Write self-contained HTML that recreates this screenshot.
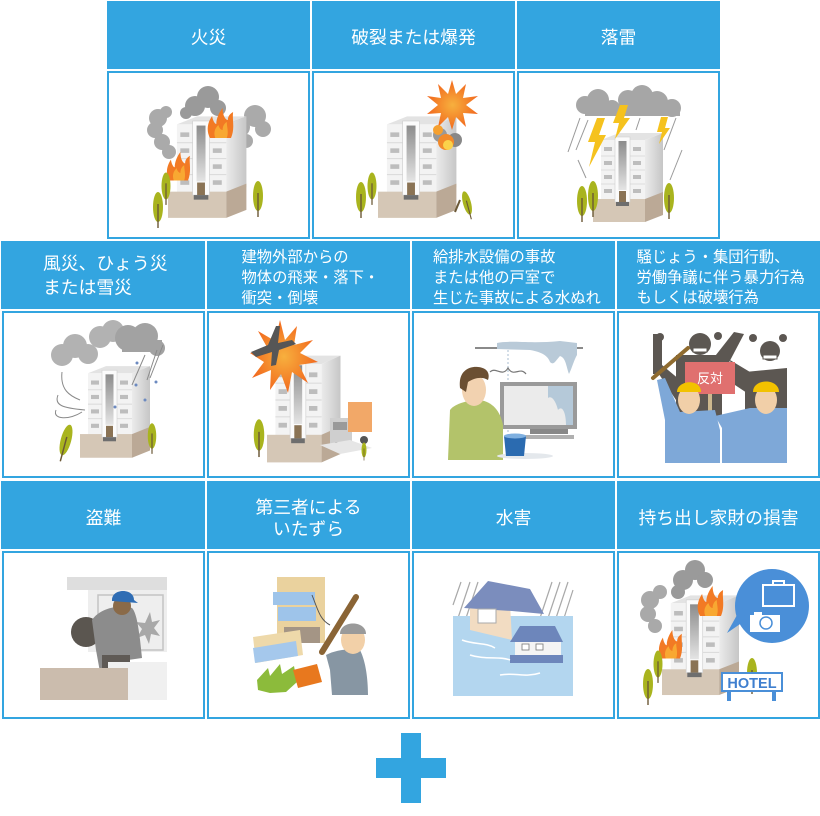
<!DOCTYPE html>
<html><head><meta charset="utf-8"><style>
html,body{margin:0;padding:0;background:#fff;width:820px;height:816px;overflow:hidden}
svg{display:block}
text{font-family:"Liberation Sans","Noto Sans CJK JP",sans-serif;fill:#fff}
</style></head><body>
<svg width="820" height="816" viewBox="0 0 820 816" xmlns="http://www.w3.org/2000/svg">
<defs>
 <linearGradient id="gs" x1="0" y1="0" x2="0" y2="1"><stop offset="0" stop-color="#8c8c8c"/><stop offset="1" stop-color="#e4e4e4"/></linearGradient>
 <linearGradient id="gside" x1="0" y1="0" x2="1" y2="0"><stop offset="0" stop-color="#ebebeb"/><stop offset="1" stop-color="#c6c6c6"/></linearGradient>
 <radialGradient id="gstar"><stop offset="0" stop-color="#f7b03e"/><stop offset="1" stop-color="#f26a1e"/></radialGradient>
 <g id="bld">
  <polygon points="8,10 26,3 70,3 52,10" fill="#e3e3e3"/>
  <rect x="8" y="10" width="44" height="62" fill="#f3f3f3"/>
  <polygon points="52,10 70,3 70,65 52,72" fill="url(#gside)"/>
  <g stroke="#dcdcdc" stroke-width="1"><line x1="8" y1="26" x2="52" y2="26"/><line x1="8" y1="40" x2="52" y2="40"/><line x1="8" y1="54" x2="52" y2="54"/></g>
  <g fill="#bdbdbd"><rect x="11" y="17" width="8" height="4"/><rect x="11" y="31" width="8" height="4"/><rect x="11" y="45" width="8" height="4"/><rect x="11" y="59" width="8" height="4"/><rect x="40" y="17" width="8" height="4"/><rect x="40" y="31" width="8" height="4"/><rect x="40" y="45" width="8" height="4"/><rect x="40" y="59" width="8" height="4"/></g>
  <rect x="0" y="69" width="52" height="23" fill="#d5c7b6"/>
  <polygon points="52,69 70,62 70,85 52,92" fill="#bba996"/>
  <rect x="22" y="7" width="15" height="65" fill="#fbfbfb" stroke="#cfcfcf" stroke-width=".6"/>
  <rect x="25.5" y="11" width="8" height="49" fill="url(#gs)"/>
  <rect x="26" y="61" width="7" height="11" fill="#8a7355"/>
  <rect x="23" y="72" width="13" height="4" fill="#6e6e6e"/>
 </g>
 <g id="tree">
  <ellipse cx="0" cy="0" rx="5" ry="15" fill="#a9b41e"/>
  <line x1="0" y1="-3" x2="0" y2="21" stroke="#6b5836" stroke-width="1.4"/>
 </g>
 <g id="flame">
  <path d="M0,30 C-4,22 -2,14 2,8 C3,14 5,16 6,16 C6,10 9,4 12,0 C12,8 15,12 17,12 C17,8 19,6 22,4 C21,12 24,20 20,30 Z" fill="#f27a24"/>
  <path d="M5,30 C3,24 5,20 8,17 C9,21 11,22 12,22 C12,18 14,15 16,14 C16,19 18,24 16,30 Z" fill="#f8a832"/>
 </g>
</defs>

<!-- Row 1 headers -->
<g fill="#33a5e0">
 <rect x="107" y="1" width="203" height="68"/>
 <rect x="312" y="1" width="203" height="68"/>
 <rect x="517" y="1" width="203" height="68"/>
 <rect x="1" y="241" width="204" height="68"/>
 <rect x="207" y="241" width="203" height="68"/>
 <rect x="412" y="241" width="203" height="68"/>
 <rect x="617" y="241" width="203" height="68"/>
 <rect x="1" y="481" width="204" height="68"/>
 <rect x="207" y="481" width="203" height="68"/>
 <rect x="412" y="481" width="203" height="68"/>
 <rect x="617" y="481" width="203" height="68"/>
 <rect x="401" y="733" width="20" height="70"/>
 <rect x="376" y="758" width="70" height="20"/>
</g>
<!-- image boxes -->
<g fill="#fff" stroke="#33a5e0" stroke-width="2">
 <rect x="108" y="72" width="201" height="166"/>
 <rect x="313" y="72" width="201" height="166"/>
 <rect x="518" y="72" width="201" height="166"/>
 <rect x="3" y="312" width="201" height="165"/>
 <rect x="208" y="312" width="201" height="165"/>
 <rect x="413" y="312" width="201" height="165"/>
 <rect x="618" y="312" width="201" height="165"/>
 <rect x="3" y="552" width="201" height="166"/>
 <rect x="208" y="552" width="201" height="166"/>
 <rect x="413" y="552" width="201" height="166"/>
 <rect x="618" y="552" width="201" height="166"/>
</g>

<!-- Header text -->
<g font-size="17.8" text-anchor="middle">
 <text x="208.5" y="43.5">火災</text>
 <text x="413.5" y="43.5">破裂または爆発</text>
 <text x="618.5" y="43.5">落雷</text>
 <text x="103.5" y="524">盗難</text>
 <text x="308.5" y="513.5">第三者による</text>
 <text x="308.5" y="535">いたずら</text>
 <text x="513.5" y="524">水害</text>
 <text x="718.5" y="524">持ち出し家財の損害</text>
</g>
<g font-size="17.8">
 <text x="43" y="269.6">風災、ひょう災</text>
 <text x="43" y="293.6">または雪災</text>
</g>
<g font-size="15.3">
 <text x="241.5" y="262">建物外部からの</text>
 <text x="241.5" y="282.5">物体の飛来・落下・</text>
 <text x="241.5" y="303">衝突・倒壊</text>
 <text x="433" y="262">給排水設備の事故</text>
 <text x="433" y="282.5">または他の戸室で</text>
 <text x="433" y="303">生じた事故による水ぬれ</text>
 <text x="636.5" y="262">騒じょう・集団行動、</text>
 <text x="636.5" y="282.3">労働争議に伴う暴力行為</text>
 <text x="636.5" y="302.6">もしくは破壊行為</text>
</g>

<!-- A: 火災 -->
<g fill="#aaaaaa">
 <circle cx="158" cy="118" r="9"/><circle cx="155" cy="130" r="8"/><circle cx="162" cy="142" r="8"/><circle cx="169" cy="152" r="7"/><circle cx="166" cy="112" r="6"/>
 <circle cx="240" cy="127" r="10"/><circle cx="255" cy="116" r="11"/><circle cx="263" cy="129" r="8"/><circle cx="246" cy="141" r="7"/>
</g>
<g fill="#9a9a9a"><circle cx="195" cy="106" r="10"/><circle cx="208" cy="97" r="11"/><circle cx="218" cy="108" r="8"/><circle cx="186" cy="113" r="6"/></g>
<use href="#bld" transform="translate(168,113) scale(1.12,1.14)"/>
<use href="#flame" transform="translate(210,108) scale(1.05,1)"/>
<use href="#flame" transform="translate(169,152) scale(0.95,0.95)"/>
<use href="#tree" transform="translate(158,207)"/>
<use href="#tree" transform="translate(166,186) scale(.9)"/>
<use href="#tree" transform="translate(258,196)"/>

<!-- B: 破裂または爆発 -->
<use href="#bld" transform="translate(378,113) scale(1.12,1.14)"/>
<polygon fill="url(#gstar)" points="452,80 456,94 466,84 463,98 478,96 466,105 478,114 463,113 466,127 456,117 452,130 448,117 438,127 441,113 427,114 438,105 427,96 441,98 438,84 448,94"/>
<g><circle cx="440" cy="135" r="7" fill="#999"/><circle cx="455" cy="140" r="7" fill="#888"/><circle cx="446" cy="142" r="8" fill="#f28a2a"/><circle cx="448" cy="145" r="5" fill="#fbd24a"/><circle cx="438" cy="130" r="5" fill="#f5a030"/></g>
<use href="#tree" transform="translate(361,197)"/>
<use href="#tree" transform="translate(372,186) scale(.9)"/>
<use href="#tree" transform="translate(467,203) rotate(-15) scale(.8)"/>
<line x1="455" y1="212" x2="460" y2="200" stroke="#6b5836" stroke-width="2"/>

<!-- C: 落雷 -->
<g stroke="#9a9a9a" stroke-width="1"><line x1="580" y1="118" x2="568" y2="152"/><line x1="588" y1="120" x2="576" y2="150"/><line x1="676" y1="118" x2="664" y2="150"/><line x1="682" y1="150" x2="670" y2="180"/><line x1="578" y1="160" x2="586" y2="178"/><line x1="640" y1="118" x2="636" y2="130"/></g>
<g fill="#a6a6a6"><circle cx="585" cy="105" r="9"/><circle cx="598" cy="100" r="11"/><circle cx="612" cy="108" r="8"/><circle cx="628" cy="100" r="10"/><circle cx="642" cy="96" r="11"/><circle cx="657" cy="102" r="11"/><circle cx="672" cy="108" r="9"/><rect x="585" y="104" width="95" height="12"/></g>
<use href="#bld" transform="translate(593,130)"/>
<g fill="#f5c21e">
 <polygon points="597,118 605,118 599,135 606,135 589,167 595,142 588,142"/>
 <polygon points="620,105 628,105 624,118 630,118 615,139 619,123 613,123"/>
 <polygon points="661,117 668,117 665,128 670,128 659,144 662,132 657,132"/>
</g>
<use href="#tree" transform="translate(582,201)"/>
<use href="#tree" transform="translate(593,196)"/>
<use href="#tree" transform="translate(669,198)"/>

<!-- D: 風災 -->
<g fill="#b2b2b2"><circle cx="62" cy="355" r="11"/><circle cx="75" cy="346" r="12"/><circle cx="88" cy="354" r="10"/><circle cx="100" cy="337" r="11"/><circle cx="113" cy="331" r="11"/></g>
<g fill="#a2a2a2"><circle cx="128" cy="338" r="13"/><circle cx="145" cy="336" r="13"/><circle cx="157" cy="348" r="8"/><rect x="122" y="340" width="40" height="12"/></g>
<use href="#bld" transform="translate(80,363) scale(1,1.03)"/>
<g fill="none" stroke="#8a8a8a" stroke-width="1"><path d="M62,372 C60,390 70,396 80,400"/><path d="M58,395 C54,405 62,408 85,410"/><path d="M56,410 C52,420 70,420 82,412"/><path d="M145,355 L132,385"/><path d="M157,350 L147,380"/><path d="M163,345 L150,378"/></g>
<g fill="#6c8ac0"><circle cx="137" cy="363" r="1.5"/><circle cx="136" cy="385" r="1.5"/><circle cx="156" cy="382" r="1.5"/><circle cx="145" cy="400" r="1.5"/><circle cx="115" cy="407" r="1.5"/></g>
<use href="#tree" transform="translate(66,440) rotate(15) scale(1.05)"/>
<use href="#tree" transform="translate(152,436) scale(.85)"/>

<!-- E: 外部からの飛来 -->
<use href="#bld" transform="translate(267,352) scale(1.05,1.2)"/>
<polygon fill="url(#gstar)" points="280,320 285,340 297,326 294,345 313,340 300,353 318,362 299,365 308,383 292,372 288,393 281,374 270,390 271,370 252,378 264,362 250,353 268,349 258,331 275,341"/>
<polygon fill="#565656" points="251,352 268,345 276,326 280,326 278,343 292,340 296,344 279,350 276,365 271,366 272,352 256,357"/>
<g><rect x="330" y="418" width="22" height="26" fill="#cfcfcf"/><rect x="333" y="422" width="14" height="8" fill="#9a9a9a"/><rect x="348" y="402" width="24" height="30" fill="#f2a868"/><circle cx="337" cy="446" r="4" fill="#555"/><circle cx="364" cy="440" r="4" fill="#555"/><polygon points="320,445 350,440 372,448 340,454" fill="#e6e6e6"/></g>
<use href="#tree" transform="translate(259,435) scale(1.05)"/>
<use href="#tree" transform="translate(364,450) scale(.5)"/>

<!-- F: 水ぬれ -->
<rect x="475" y="347" width="108" height="2" fill="#8a8a8a"/>
<path d="M497,343 C510,340 530,344 560,341 L577,343 L577,355 C574,360 572,368 569,374 C566,366 566,358 560,356 C556,360 554,366 550,362 C548,356 542,352 530,350 L497,349 Z" fill="#b9cad8"/>
<line x1="508" y1="350" x2="508" y2="432" stroke="#c5d4e0" stroke-width="1.5" stroke-dasharray="2,2"/>
<rect x="500" y="382" width="77" height="47" fill="#9a9a9a"/>
<rect x="504" y="386" width="69" height="39" fill="#ebebeb"/>
<path d="M548,386 L573,386 L573,425 L566,425 C566,412 562,405 558,410 C556,402 552,395 548,398 Z" fill="#b5c9d9"/>
<rect x="530" y="429" width="38" height="5" fill="#888"/>
<rect x="516" y="435" width="58" height="4" fill="#b0b0b0"/>
<path d="M448,460 L450,410 C455,403 470,400 480,400 C492,402 500,410 503,425 L503,460 Z" fill="#b3c36a"/>
<ellipse cx="474" cy="390" rx="12" ry="16" fill="#f2d2b0"/>
<path d="M460,388 C458,372 468,366 478,367 C488,368 490,374 488,380 C482,376 474,378 468,382 L466,392 Z" fill="#6b4f32"/>
<path d="M490,372 C496,366 502,378 508,368 C514,378 520,366 526,374" fill="none" stroke="#777" stroke-width="1.2"/>
<ellipse cx="525" cy="456" rx="28" ry="3" fill="#e4e8ec"/>
<polygon points="504,436 526,436 524,456 506,456" fill="#2b6bb0"/>
<ellipse cx="515" cy="436" rx="11" ry="2.5" fill="#7fb0e0"/>

<!-- G: 騒じょう -->
<g fill="#5c5752">
 <rect x="653" y="334" width="9" height="40"/>
 <polygon points="653,365 662,365 680,380 676,400"/>
 <rect x="676" y="355" width="46" height="62"/>
 <polygon points="712,360 734,332 744,334 724,372"/>
 <circle cx="700" cy="344" r="11"/>
 <circle cx="770" cy="351" r="10"/>
 <polygon points="745,372 787,368 787,412 745,412"/>
 <polygon points="730,360 750,372 750,395 735,385"/>
</g>
<g fill="#fff" stroke="#5c5752" stroke-width="1"><rect x="693" y="348" width="14" height="4"/><rect x="763" y="355" width="14" height="4"/></g>
<g fill="#5c5752"><circle cx="660" cy="337" r="4"/><circle cx="718" cy="336" r="4"/><circle cx="753" cy="338" r="4"/><circle cx="783" cy="338" r="4"/></g>
<line x1="653" y1="378" x2="688" y2="348" stroke="#8f6b2f" stroke-width="4" stroke-linecap="round"/>
<rect x="685" y="362" width="50" height="32" fill="#e0706f"/>
<text x="710" y="383" font-size="13" text-anchor="middle">反対</text>
<rect x="708" y="394" width="4" height="22" fill="#cdb88e"/>
<path d="M657,380 L665,378 L680,412 L715,410 L720,430 L720,463 L665,463 L665,420 Z" fill="#7ea8d8"/>
<path d="M715,416 L750,408 L787,408 L787,463 L722,463 L722,428 Z" fill="#7ea8d8"/>
<ellipse cx="689" cy="400" rx="11" ry="14" fill="#f1cfa8"/>
<path d="M677,392 C677,380 701,378 701,392 Z" fill="#f2c200"/>
<ellipse cx="766" cy="400" rx="11" ry="14" fill="#f1cfa8"/>
<path d="M753,392 C753,378 779,378 779,392 Z" fill="#f2c200"/>

<!-- H: 盗難 -->
<rect x="67" y="577" width="100" height="13" fill="#dedede"/>
<rect x="88" y="590" width="79" height="62" fill="#eeeeee"/>
<g fill="none" stroke="#c4c4c4" stroke-width="1.5"><rect x="98" y="595" width="65" height="55"/><line x1="130" y1="595" x2="130" y2="650"/></g>
<polygon points="150,612 152,622 160,620 154,628 160,636 151,634 149,644 145,635 137,638 142,629 136,622 145,623" fill="#a8a8a8"/>
<ellipse cx="86" cy="632" rx="15" ry="15" fill="#5b5650"/>
<path d="M92,620 C100,608 120,604 132,608 C138,614 140,640 142,658 L128,660 L126,670 L100,672 L96,650 Z" fill="#8c8c8c"/>
<rect x="102" y="655" width="28" height="17" fill="#5f5a55"/>
<ellipse cx="122" cy="606" rx="9" ry="9" fill="#8a6a48"/>
<path d="M112,600 C112,588 134,588 134,600 L138,603 L112,601 Z" fill="#2f6db4"/>
<rect x="108" y="662" width="59" height="38" fill="#f0f0f0"/>
<rect x="40" y="668" width="88" height="32" fill="#cbbcad"/>

<!-- I: いたずら -->
<rect x="277" y="577" width="48" height="66" fill="#ead29e"/>
<rect x="273" y="592" width="42" height="13" fill="#9ec4ea"/>
<rect x="278" y="607" width="38" height="14" fill="#9ec4ea"/>
<rect x="284" y="627" width="36" height="16" fill="#a49585"/>
<path d="M312,595 C318,610 320,620 330,625" fill="none" stroke="#555" stroke-width="1"/>
<polygon points="253,637 300,630 303,655 256,663" fill="#eed9aa"/>
<polygon points="253,648 296,641 298,656 255,663" fill="#a5c8ec"/>
<polygon points="257,680 268,668 270,676 280,664 282,674 294,666 297,682 286,692 270,693 258,690" fill="#8cbb3b"/>
<polygon points="293,670 317,664 322,682 298,688" fill="#e8781e"/>
<line x1="322" y1="652" x2="356" y2="597" stroke="#8a6435" stroke-width="6" stroke-linecap="round"/>
<path d="M326,655 C335,650 350,648 360,650 C366,662 368,680 368,695 L332,695 L330,670 Z" fill="#8796a3"/>
<ellipse cx="353" cy="640" rx="12" ry="14" fill="#f2d0a8"/>
<path d="M340,634 C340,620 366,620 366,634 Z" fill="#9a9a9a"/>

<!-- J: 水害 -->
<g stroke="#a8a8a8" stroke-width="1.2">
 <line x1="458" y1="618" x2="470" y2="582"/><line x1="466" y1="618" x2="478" y2="582"/><line x1="540" y1="618" x2="552" y2="582"/><line x1="548" y1="618" x2="560" y2="582"/><line x1="556" y1="618" x2="568" y2="582"/><line x1="564" y1="618" x2="573" y2="590"/><line x1="453" y1="605" x2="461" y2="582"/>
</g>
<rect x="453" y="616" width="120" height="80" fill="#b3d6ef"/>
<polygon points="470,603 510,603 512,640 470,630" fill="#f2dcc2"/>
<polygon points="464,608 488,581 530,589 544,614 512,611" fill="#7b8dbd"/>
<rect x="478" y="609" width="18" height="14" fill="#fff" stroke="#aaa" stroke-width="1"/>
<rect x="515" y="640" width="46" height="18" fill="#f4f4f4"/>
<polygon points="510,642 520,626 555,626 563,642" fill="#6d86bb"/>
<rect x="522" y="644" width="7" height="6" fill="#fff" stroke="#777" stroke-width=".8"/>
<rect x="536" y="644" width="7" height="6" fill="#fff" stroke="#777" stroke-width=".8"/>
<rect x="510" y="655" width="53" height="8" fill="#6d86bb"/>
<g fill="none" stroke="#fff" stroke-width="1.5"><path d="M462,640 C475,645 485,642 495,648"/><path d="M470,655 C485,660 500,656 510,660"/><path d="M500,675 C515,672 525,678 540,673"/></g>

<!-- K: 持ち出し家財 -->
<g fill="#a9a9a9"><circle cx="650" cy="600" r="9"/><circle cx="648" cy="614" r="8"/><circle cx="655" cy="626" r="7"/><circle cx="660" cy="592" r="7"/></g>
<g fill="#9a9a9a"><circle cx="683" cy="580" r="10"/><circle cx="695" cy="570" r="10"/><circle cx="705" cy="580" r="8"/><circle cx="678" cy="592" r="7"/></g>
<use href="#bld" transform="translate(662,592) scale(1.1,1.12)"/>
<use href="#flame" transform="translate(700,586) scale(1.05,1)"/>
<use href="#flame" transform="translate(661,630) scale(.95,.95)"/>
<use href="#tree" transform="translate(648,684)"/>
<use href="#tree" transform="translate(658,664) scale(.9)"/>
<use href="#tree" transform="translate(752,673)"/>
<circle cx="772" cy="606" r="37" fill="#4a8fd8"/>
<polygon points="746,620 727,633 742,606" fill="#4a8fd8"/>
<g fill="none" stroke="#fff" stroke-width="2"><rect x="763" y="585" width="31" height="21"/><rect x="773" y="581" width="11" height="4"/></g>
<rect x="750" y="615" width="30" height="17" fill="#fff"/>
<rect x="754" y="612" width="8" height="4" fill="#fff"/>
<circle cx="766" cy="623" r="6" fill="none" stroke="#4a8fd8" stroke-width="1.5"/>
<rect x="727" y="690" width="4" height="11" fill="#4a8fd8"/>
<rect x="772" y="690" width="4" height="11" fill="#4a8fd8"/>
<rect x="722" y="673" width="60" height="18" fill="#fff" stroke="#4a8fd8" stroke-width="2"/>
<text x="752" y="688" font-size="14.5" font-weight="bold" text-anchor="middle" style="fill:#3f7fcf">HOTEL</text>
</svg>
</body></html>
